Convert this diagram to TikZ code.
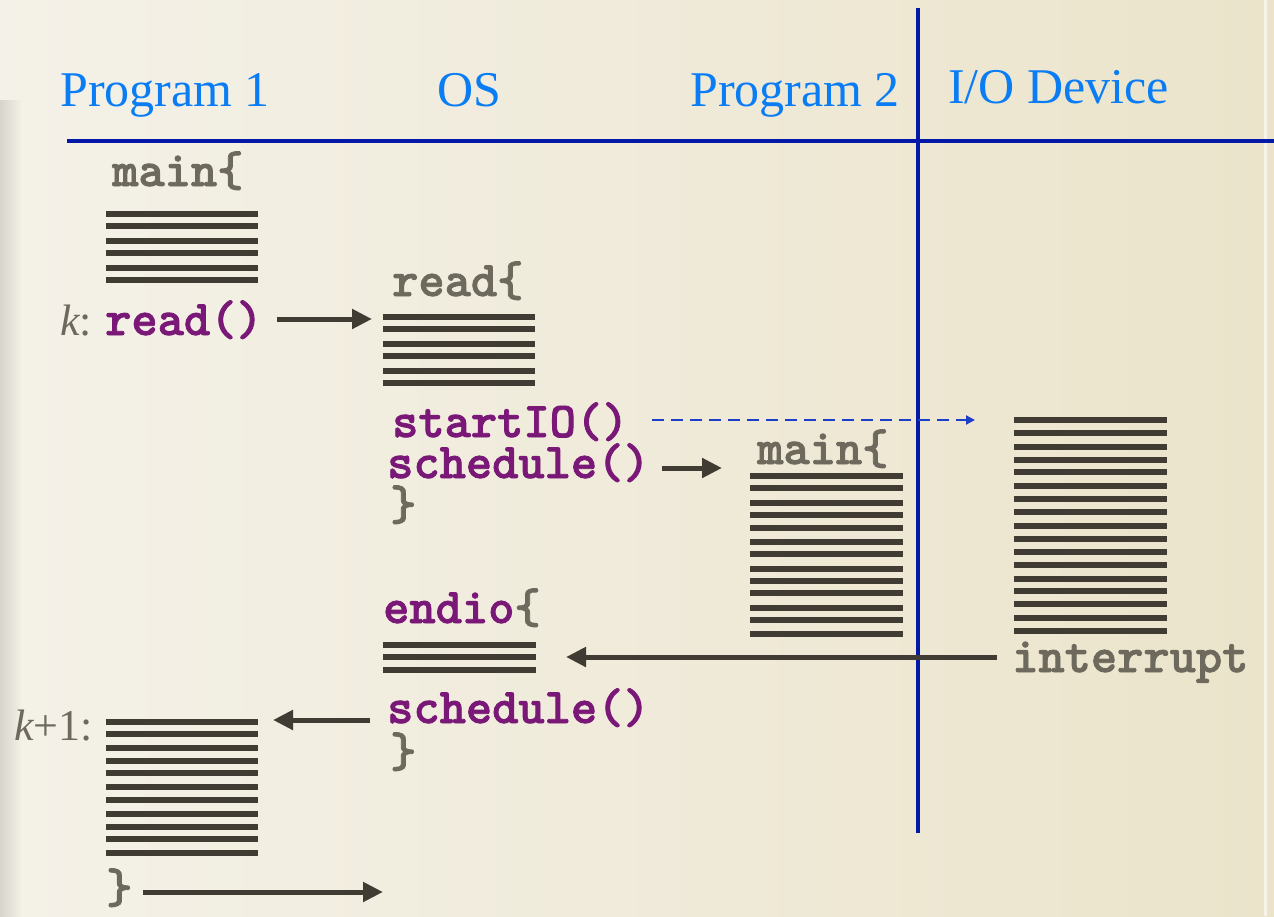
\documentclass[tikz,border=0pt]{standalone}
\usepackage{fontspec}
\setmainfont{Liberation Serif}
\newfontfamily\hdrfont{Liberation Serif}
\newfontfamily\codefont{lmmonolt10-bold.otf}[FakeBold=1.6]
\usetikzlibrary{arrows.meta}
\definecolor{bgL}{HTML}{F4F1E8}
\definecolor{bgR}{HTML}{EBE4CB}
\definecolor{hblue}{HTML}{0A7DF5}
\definecolor{lblue}{HTML}{0418A8}
\definecolor{dblue}{HTML}{1C3FC9}
\definecolor{barc}{HTML}{403C33}
\definecolor{gtext}{HTML}{6D695C}
\definecolor{ptext}{HTML}{7A1878}
\begin{document}
\begin{tikzpicture}[x=1pt,y=-1pt,
  hdrtxt/.style={font=\hdrfont\fontsize{50}{60}\selectfont, text=hblue, inner sep=0pt, anchor=base west},
  codeg/.style={font=\codefont\fontsize{50}{56}\selectfont, text=gtext, inner sep=0pt, anchor=base west},
  codep/.style={codeg, text=ptext},
  lbltxt/.style={font=\fontsize{44}{52}\selectfont, text=gtext, inner sep=0pt, anchor=base west},
  barline/.style={draw=barc, line width=5.5pt},
  sepline/.style={draw=lblue, line width=4pt},
  arr/.style={draw=barc, line width=5pt, -{Triangle[length=20pt,width=19pt]}},
  dasharr/.style={draw=dblue, line width=2pt, dash pattern=on 12pt off 7pt, -{Triangle[length=9pt,width=9pt]}}
]
\useasboundingbox (0,0) rectangle (1274,916);
% background
\fill[left color=bgL, right color=bgR] (0,0) rectangle (1274,916);
\fill[left color=bgL!88!black, right color=bgL] (0,100) rectangle (22,916);
\draw[white!60!bgR, line width=3pt] (1265,0) -- (1265,916);

% headers
\node[hdrtxt] (p1) at (60,106) {Program 1};
\node[hdrtxt] (os) at (437,106) {OS};
\node[hdrtxt] (p2) at (690,106) {Program 2};
\node[hdrtxt] (io) at (948,103) {I/O Device};

% separator lines
\coordinate (hl) at (67,141);
\coordinate (hr) at (1274,141);
\coordinate (vt) at (918,8);
\coordinate (vb) at (918,833);
\draw[sepline] (hl) -- (hr);
\draw[sepline] (vt) -- (vb);

% Program 1 main
\node[codeg] (main1) at (112,186) {main\{};
\foreach \y in {214,226,241,253,268,280} \draw[barline] (106,\y) -- (258,\y);
\node[lbltxt] (klbl) at (60,335) {\itshape k\upshape:};
\node[codep] (readcall) at (105,335) {read()};

% OS read
\node[codeg] (readfn) at (392,296) {read\{};
\foreach \y in {317,329,344,356,371,383} \draw[barline] (383,\y) -- (535,\y);
\node[codep] (startio) at (392,437) {startIO()};
\node[codep] (sched1) at (387,478) {schedule()};
\node[codeg] (close1) at (390,520) {\}};

% Program 2 main
\node[codeg] (main2) at (757,464) {main\{};
\foreach \y in {476,488,503,515,528,542,554,569,581,593,608,620,634} \draw[barline] (750,\y) -- (903,\y);

% I/O device
\foreach \y in {420,433,447,460,472,486,499,512,526,539,552,565,579,591,604,618,631} \draw[barline] (1014,\y) -- (1167,\y);
\node[codeg] (intr) at (1012,672) {interrupt};

% endio
\node[codep] (endio) at (383,623) {endio\textcolor{gtext}{\{}};
\foreach \y in {645,657,670} \draw[barline] (383,\y) -- (536,\y);
\node[codep] (sched2) at (387,723) {schedule()};
\node[codeg] (close2) at (390,767) {\}};

% k+1
\node[lbltxt] (k1lbl) at (14,740) {\itshape k\upshape+1:};
\foreach \y in {722,734,748,761,773,787,800,814,827,839,853} \draw[barline] (106,\y) -- (258,\y);
\node[codeg] (close3) at (106,903) {\}};

% arrow endpoints
\coordinate (a1s) at (277,319);
\coordinate (a1e) at (372,319);
\coordinate (a2s) at (662,468);
\coordinate (a2e) at (722,468);
\coordinate (dss) at (652,420);
\coordinate (dse) at (975,420);
\coordinate (irs) at (997,657);
\coordinate (ire) at (566,657);
\coordinate (b1s) at (370,720);
\coordinate (b1e) at (273,720);
\coordinate (f1s) at (143,892);
\coordinate (f1e) at (383,892);

\draw[arr] (a1s) -- (a1e);
\draw[arr] (a2s) -- (a2e);
\draw[dasharr] (dss) -- (dse);
\draw[arr] (irs) -- (ire);
\draw[arr] (b1s) -- (b1e);
\draw[arr] (f1s) -- (f1e);
\end{tikzpicture}
\end{document}
